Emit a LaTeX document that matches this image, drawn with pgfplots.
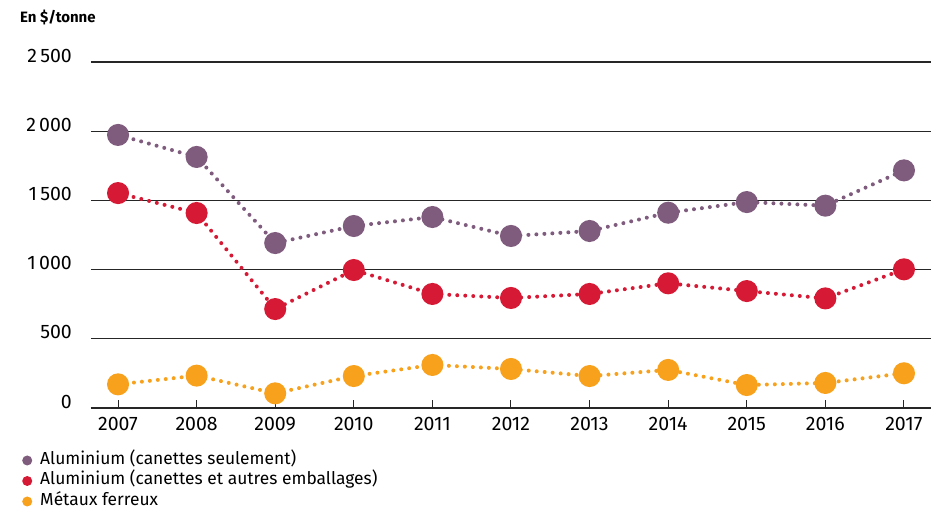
\documentclass[border=0pt]{standalone}
\usepackage{pgfplots}
\pgfplotsset{compat=1.18}
\usepackage{fontspec}
\setmainfont{Fira Sans}
\definecolor{cpurple}{HTML}{7F5B7E}
\definecolor{cred}{HTML}{D61A35}
\definecolor{corange}{HTML}{F7A11C}
\begin{document}
\begin{tikzpicture}
\path[use as bounding box] (0,0) rectangle (943pt,-511pt);
\node[anchor=west, inner sep=0pt, font=\fontsize{15}{18}\selectfont\bfseries] at (20pt,-17pt) {En \$/tonne};
\begin{axis}[
  at={(91pt,-408pt)}, anchor=south west,
  scale only axis, width=840pt, height=346pt,
  xmin=2006.656, xmax=2017.344, ymin=0, ymax=2500,
  clip=false,
  axis x line*=bottom, axis y line*=left,
  y axis line style={draw=none},
  x axis line style={black!85, line width=1.1pt},
  ytick={0,500,1000,1500,2000,2500},
  yticklabels={0,500,1\,000,1\,500,2\,000,2\,500},
  ytick style={draw=none},
  ymajorgrids,
  grid style={black!85, line width=1.1pt},
  xtick={2007,...,2017},
  xticklabels={2007,2008,2009,2010,2011,2012,2013,2014,2015,2016,2017},
  xtick align=inside,
  major tick length=8pt,
  xtick style={black!85, line width=1pt},
  yticklabel style={anchor=base east, inner sep=0pt, xshift=-19pt, font=\fontsize{19.5}{22}\selectfont},
  xticklabel style={anchor=north, inner sep=0pt, yshift=-9pt, font=\fontsize{19.5}{22}\selectfont},
  legend style={at={(axis description cs:-0.0821,-0.128)}, anchor=north west,
    draw=none, fill=none, inner sep=0pt, row sep=4.5pt,
    cells={anchor=west},
    nodes={inner sep=0pt, text height=12pt, text depth=4pt, font=\fontsize{17.4}{20}\selectfont},
    /tikz/every odd column/.append style={column sep=8pt}},
  legend image code/.code={\path[solid, draw=none, fill] (0pt,0pt) circle (5pt);},
  every axis plot/.append style={dash pattern=on 0pt off 8pt, line cap=round, line width=4pt,
    mark=*, mark size=9pt},
]
\addplot[color=cpurple, mark options={solid, draw=none, fill=cpurple}] coordinates {
(2007,1973) (2008,1814) (2009,1192) (2010,1315) (2011,1380) (2012,1243)
(2013,1279) (2014,1411) (2015,1488) (2016,1462) (2017,1717)};
\addlegendentry{Aluminium (canettes seulement)}
\addplot[color=cred, mark options={solid, draw=none, fill=cred}] coordinates {
(2007,1553) (2008,1409) (2009,715) (2010,997) (2011,824) (2012,795)
(2013,824) (2014,901) (2015,845) (2016,792) (2017,1002)};
\addlegendentry{Aluminium (canettes et autres emballages)}
\addplot[color=corange, mark options={solid, draw=none, fill=corange}] coordinates {
(2007,171) (2008,234) (2009,106) (2010,231) (2011,311) (2012,282)
(2013,231) (2014,275) (2015,166) (2016,181) (2017,251)};
\addlegendentry{Métaux ferreux}
\end{axis}
\end{tikzpicture}
\end{document}
